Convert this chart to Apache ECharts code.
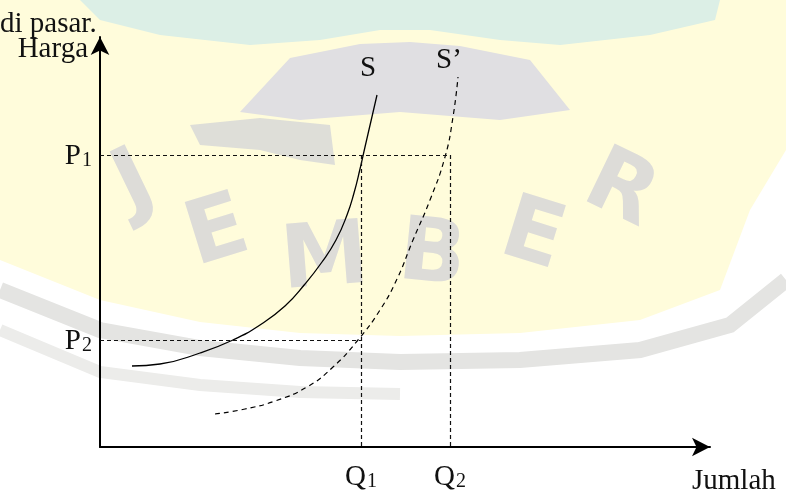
<!DOCTYPE html>
<html>
<head>
<meta charset="utf-8">
<script src="https://cdn.jsdelivr.net/npm/echarts@6/dist/echarts.min.js"></script>
<style>
  html, body { margin: 0; padding: 0; background: #fff; }
  #main { width: 786px; height: 497px; }
</style>
</head>
<body>
<div id="main"></div>
<script>
// kurva penawaran S dan S' (x = jumlah, y = harga)
var supplyS = [[32, 81], [60, 83], [100, 94], [133, 107], [160, 122], [185, 141], [205, 163],
  [222, 185], [236, 207], [247, 232], [254, 254], [260, 278], [265, 300], [271, 326], [277, 352]];
var supplyS2 = [[115, 33], [145, 38], [175, 46], [207, 60], [233, 80], [258, 107],
  [280, 137], [297, 168], [313, 207], [330, 247], [345, 290], [353, 330], [358, 370]];
var priceLevels = [107, 292];      // P2, P1
var priceNames = ['P|2', 'P|1'];
var qtyLevels = [261, 350];        // Q1, Q2
var qtyNames = ['Q|1', 'Q|2'];

var chart = echarts.init(document.getElementById('main'));
var serif = 'Liberation Serif';
var subRich = {
  a: { fontFamily: serif, fontSize: 29, color: '#111', lineHeight: 32, verticalAlign: 'bottom' },
  b: { fontFamily: serif, fontSize: 20, color: '#111', lineHeight: 32, verticalAlign: 'bottom', padding: [0, 0, 0, 1] }
};
function subLabel(s) {
  var p = s.split('|');
  return '{a|' + p[0] + '}{b|' + p[1] + '}';
}

// garis bantu putus-putus
var guide = { type: [4, 3], width: 1.2, color: '#111' };
var guideLines = [
  [{ coord: [0, priceLevels[1]] }, { coord: [qtyLevels[1], priceLevels[1]] }],
  [{ coord: [0, priceLevels[0]] }, { coord: [qtyLevels[0], priceLevels[0]] }],
  [{ coord: [qtyLevels[0], priceLevels[1]] }, { coord: [qtyLevels[0], 0] }],
  [{ coord: [qtyLevels[1], priceLevels[1]] }, { coord: [qtyLevels[1], 0] }]
];

// watermark latar
var wm = '#dddcd8';
function letter(ch, x, y, rot) {
  return { type: 'text', z: -8, silent: true, x: x, y: y, rotation: rot,
    style: { text: ch, font: 'bold 88px "DejaVu Sans"', fill: wm, align: 'center', verticalAlign: 'middle' } };
}
var graphics = [
  { type: 'polygon', z: -10, silent: true,
    shape: { points: [[0, 0], [786, 0], [786, 150], [750, 210], [720, 290], [640, 320], [520, 333], [400, 336], [300, 333], [200, 322], [100, 300], [0, 260]] },
    style: { fill: '#fffcdb' } },
  { type: 'polyline', z: -9, silent: true,
    shape: { points: [[0, 290], [100, 330], [200, 348], [300, 358], [400, 362], [520, 360], [640, 350], [730, 325], [786, 280]] },
    style: { stroke: '#e4e4e2', lineWidth: 16, fill: null } },
  { type: 'polyline', z: -9, silent: true,
    shape: { points: [[0, 330], [100, 372], [200, 385], [300, 392], [400, 394]] },
    style: { stroke: '#ececea', lineWidth: 12, fill: null } },
  { type: 'polygon', z: -9, silent: true,
    shape: { points: [[80, 0], [720, 0], [715, 20], [650, 35], [560, 45], [500, 40], [430, 30], [380, 30], [320, 40], [250, 45], [160, 35], [100, 20]] },
    style: { fill: '#dcefe6' } },
  { type: 'polygon', z: -9, silent: true,
    shape: { points: [[290, 58], [360, 44], [410, 42], [460, 46], [530, 60], [570, 110], [500, 120], [400, 112], [300, 120], [240, 112]] },
    style: { fill: '#e0dfe2' } },
  { type: 'polygon', z: -9, silent: true,
    shape: { points: [[190, 125], [260, 118], [330, 125], [335, 165], [300, 160], [260, 150], [200, 145]] },
    style: { fill: '#deded8' } },
  letter('J', 135, 185, 0.45),
  letter('E', 218, 235, 0.3),
  letter('M', 325, 262, 0.08),
  letter('B', 432, 258, -0.1),
  letter('E', 532, 238, -0.3),
  letter('R', 620, 192, -0.45)
];

var option = {
  animation: false,
  backgroundColor: '#fff',
  title: {
    text: 'di pasar.',
    left: -5, top: 5,
    textStyle: { fontFamily: serif, fontSize: 29, fontWeight: 'normal', color: '#111' }
  },
  graphic: graphics,
  grid: { left: 100, right: 76, top: 37, bottom: 50 },
  xAxis: {
    type: 'value', min: 0, max: 610,
    name: 'Jumlah', nameLocation: 'end', nameGap: -18,
    nameTextStyle: { fontFamily: serif, fontSize: 29, color: '#111', align: 'left', verticalAlign: 'top', padding: [20, 0, 0, 0] },
    axisLine: { show: true, symbol: ['none', 'arrow'], symbolSize: [14, 18], lineStyle: { color: '#000', width: 2 } },
    axisTick: { show: false },
    splitLine: { show: false },
    axisLabel: {
      customValues: qtyLevels, margin: 13,
      formatter: function (v) { return subLabel(qtyNames[qtyLevels.indexOf(v)]); },
      rich: subRich
    }
  },
  yAxis: {
    type: 'value', min: 0, max: 410,
    name: 'Harga', nameLocation: 'end', nameGap: -12,
    nameTextStyle: { fontFamily: serif, fontSize: 29, color: '#111', align: 'right', verticalAlign: 'middle', padding: [0, 12, 0, 0] },
    axisLine: { show: true, symbol: ['none', 'arrow'], symbolSize: [14, 18], lineStyle: { color: '#000', width: 2 } },
    axisTick: { show: false },
    splitLine: { show: false },
    axisLabel: {
      customValues: priceLevels, margin: 8,
      formatter: function (v) { return subLabel(priceNames[priceLevels.indexOf(v)]); },
      rich: subRich
    }
  },
  series: [
    {
      name: 'S', type: 'line', smooth: 0.5, showSymbol: false, symbol: 'none',
      data: supplyS,
      lineStyle: { color: '#000', width: 1.3 },
      endLabel: { show: true, formatter: 'S', fontFamily: serif, fontSize: 29, color: '#111', offset: [-25, -27] },
      markLine: {
        silent: true, symbol: 'none', label: { show: false },
        lineStyle: guide,
        data: guideLines
      }
    },
    {
      name: "S'", type: 'line', smooth: 0.5, showSymbol: false, symbol: 'none',
      data: supplyS2,
      lineStyle: { color: '#000', width: 1.2, type: [5, 4] },
      endLabel: { show: true, formatter: 'S\u2019', fontFamily: serif, fontSize: 29, color: '#111', offset: [-30, -17] }
    }
  ]
};
chart.setOption(option);
</script>
</body>
</html>
